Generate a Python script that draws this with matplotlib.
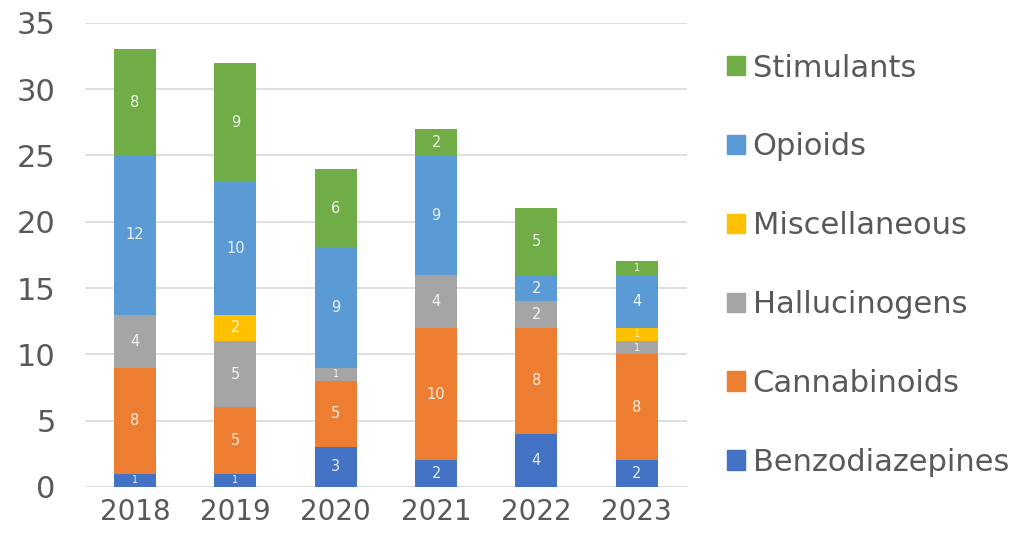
import numpy as np
import matplotlib
matplotlib.use("Agg")
import matplotlib.pyplot as plt
from matplotlib.patches import Patch

years = ['2018', '2019', '2020', '2021', '2022', '2023']
benzo = [1, 1, 3, 2, 4, 2]
canna = [8, 5, 5, 10, 8, 8]
halluc = [4, 5, 1, 4, 2, 1]
misc = [0, 2, 0, 0, 0, 1]
opioids = [12, 10, 9, 9, 2, 4]
stim = [8, 9, 6, 2, 5, 1]

names = ['Benzodiazepines', 'Cannabinoids', 'Hallucinogens',
         'Miscellaneous', 'Opioids', 'Stimulants']
series = [benzo, canna, halluc, misc, opioids, stim]
colors = ['#4472C4', '#ED7D31', '#A5A5A5', '#FFC000', '#5B9BD5', '#70AD47']

plt.rcParams['font.family'] = ['DejaVu Sans']

fig = plt.figure(figsize=(10.36, 5.44), dpi=100)
ax = fig.add_axes([0.082, 0.105, 0.581, 0.853])

x = np.arange(len(years))
bottom = np.zeros(len(years))
for vals, c in zip(series, colors):
    vals = np.array(vals, dtype=float)
    ax.bar(x, vals, 0.42, bottom=bottom, color=c, zorder=3)
    for xi, v, b in zip(x, vals, bottom):
        if v > 0:
            fs = 7 if v == 1 else 10.5
            ax.text(xi, b + v / 2, str(int(v)), ha='center', va='center',
                    color='white', alpha=0.85, fontsize=fs, zorder=4)
    bottom += vals

ax.set_xlim(-0.5, 5.5)
ax.set_ylim(0, 35)
ax.set_yticks(range(0, 36, 5))
ax.set_xticks(x)
ax.set_xticklabels(years)
ax.yaxis.grid(True, color='#D9D9D9', linewidth=1.2, zorder=0)
for s in ax.spines.values():
    s.set_visible(False)
ax.tick_params(axis='both', length=0, labelcolor='#595959')
ax.tick_params(axis='y', pad=21, labelsize=22)
ax.tick_params(axis='x', pad=8, labelsize=20)

handles = [Patch(color=c) for c in colors][::-1]
fig.legend(handles, names[::-1], loc='upper left', bbox_to_anchor=(0.6895, 0.924),
           frameon=False, fontsize=22, labelcolor='#595959',
           handlelength=0.6, handleheight=0.6, handletextpad=0.25,
           labelspacing=1.63, borderaxespad=0)

fig.savefig('out.png', dpi=100)
